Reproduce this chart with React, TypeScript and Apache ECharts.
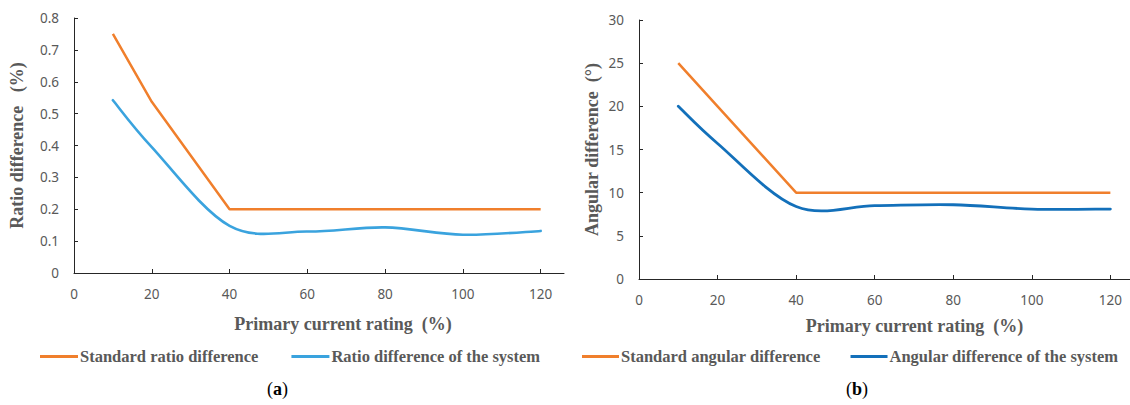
import React, { useEffect, useRef } from "react";
import * as echarts from "echarts";

const xTicks = [0, 20, 40, 60, 80, 100, 120];
const ratioStd: [number, number][] = [[10, 0.75], [20, 0.537], [40, 0.2], [60, 0.2], [80, 0.2], [100, 0.2], [120, 0.2]];
const ratioSys: [number, number][] = [[10, 0.542], [20, 0.395], [40, 0.148], [60, 0.13], [80, 0.143], [100, 0.12], [120, 0.132]];
const angStd: [number, number][] = [[10, 25], [20, 20], [40, 10], [60, 10], [80, 10], [100, 10], [120, 10]];
const angSys: [number, number][] = [[10, 20], [20, 15.7], [40, 8.4], [60, 8.5], [80, 8.6], [100, 8.1], [120, 8.1]];

const ORANGE = "#F07F2C";
const BLUE_L = "#3AA3DE";
const BLUE_D = "#1370BA";
const GRAY = "#595959";
const AXIS = "#262626";

function smoothSeries(name: string, data: [number, number][], color: string, gi: number, width: number) {
  return {
    type: "custom" as const,
    name,
    data,
    xAxisIndex: gi,
    yAxisIndex: gi,
    encode: { x: 0, y: 1 },
    itemStyle: { color },
    silent: true,
    renderItem: (params: any, api: any) => {
      if (params.dataIndex !== 0) return null;
      const pts = data.map((d) => api.coord(d) as number[]);
      let path = `M${pts[0][0]},${pts[0][1]}`;
      for (let i = 0; i < pts.length - 1; i++) {
        const p0 = pts[i - 1] ?? pts[i];
        const p1 = pts[i];
        const p2 = pts[i + 1];
        const p3 = pts[i + 2] ?? pts[i + 1];
        const c1x = p1[0] + (p2[0] - p0[0]) / 6;
        const c1y = p1[1] + (p2[1] - p0[1]) / 6;
        const c2x = p2[0] - (p3[0] - p1[0]) / 6;
        const c2y = p2[1] - (p3[1] - p1[1]) / 6;
        path += ` C${c1x},${c1y} ${c2x},${c2y} ${p2[0]},${p2[1]}`;
      }
      return {
        type: "path",
        shape: { pathData: path },
        style: { stroke: color, lineWidth: width, fill: "none", lineJoin: "round", lineCap: "round" },
      };
    },
  };
}

export default function App() {
  const ref = useRef<HTMLDivElement>(null);
  useEffect(() => {
    if (!ref.current) return;
    const chart = echarts.init(ref.current, undefined, { renderer: "svg" });
    const axisLabel = { color: GRAY, fontFamily: "Noto Sans", fontSize: 13.5 };
    const nameStyle = { color: GRAY, fontFamily: "Liberation Serif", fontWeight: "bold" as const, fontSize: 18 };
    const xAxisBase = (gi: number, max: number, gap: number, pad: number[]) => ({
      type: "value" as const,
      gridIndex: gi,
      min: 0,
      max,
      name: "Primary current rating  (%)",
      nameLocation: "middle" as const,
      nameGap: gap,
      nameMoveOverlap: false,
      nameTextStyle: { ...nameStyle, padding: pad },
      splitLine: { show: false },
      axisLine: { show: true, lineStyle: { color: AXIS, width: 1 } },
      axisTick: { show: true, inside: true, length: 4, lineStyle: { color: AXIS }, customValues: xTicks },
      axisLabel: { ...axisLabel, margin: 14, customValues: xTicks },
    });
    const yAxisBase = (gi: number, max: number, interval: number, name: string, gap: number) => ({
      type: "value" as const,
      gridIndex: gi,
      min: 0,
      max,
      interval,
      name,
      nameLocation: "middle" as const,
      nameRotate: 90,
      nameGap: gap,
      nameMoveOverlap: false,
      nameTextStyle: nameStyle,
      splitLine: { show: false },
      axisLine: { show: true, lineStyle: { color: AXIS, width: 1 } },
      axisTick: { show: true, inside: true, length: 4, lineStyle: { color: AXIS } },
      axisLabel: { ...axisLabel, margin: 15 },
    });
    const legendText = {
      color: GRAY,
      fontFamily: "Liberation Serif",
      fontWeight: "bold" as const,
      fontSize: 16.5,
      padding: [0, 0, 0, -3],
    };
    const line = (name: string, data: [number, number][], color: string, gi: number, width: number) => ({
      type: "line" as const,
      name,
      data,
      xAxisIndex: gi,
      yAxisIndex: gi,
      showSymbol: false,
      symbol: "none",
      lineStyle: { color, width },
      itemStyle: { color },
    });
    chart.setOption({
      animation: false,
      backgroundColor: "#ffffff",
      grid: [
        { left: 74, top: 18, width: 490, height: 255 },
        { left: 639, top: 20, width: 491, height: 259 },
      ],
      xAxis: [xAxisBase(0, 126, 42, [0, 0, 0, 48]), xAxisBase(1, 125, 38, [0, 0, 0, 60])],
      yAxis: [
        yAxisBase(0, 0.8, 0.1, "Ratio difference   (%)", 48),
        yAxisBase(1, 30, 5, "Angular difference  (°)", 38),
      ],
      legend: [
        {
          left: 40,
          top: 348,
          padding: 0,
          icon: "rect",
          itemWidth: 38,
          itemHeight: 3,
          itemGap: 33,
          textStyle: legendText,
          data: ["Standard ratio difference", "Ratio difference of the system"],
        },
        {
          left: 582,
          top: 348,
          padding: 0,
          icon: "rect",
          itemWidth: 37,
          itemHeight: 3,
          itemGap: 30,
          textStyle: legendText,
          data: ["Standard angular difference", "Angular difference of the system"],
        },
      ],
      graphic: [
        {
          type: "text",
          left: 267,
          top: 380,
          style: {
            text: "({a|a})",
            fill: "#000",
            font: "18px 'Liberation Serif'",
            rich: { a: { fontWeight: "bold", fontSize: 18, fontFamily: "Liberation Serif", fill: "#000" } },
          },
        },
        {
          type: "text",
          left: 846,
          top: 380,
          style: {
            text: "({b|b})",
            fill: "#000",
            font: "18px 'Liberation Serif'",
            rich: { b: { fontWeight: "bold", fontSize: 18, fontFamily: "Liberation Serif", fill: "#000" } },
          },
        },
      ],
      series: [
        line("Standard ratio difference", ratioStd, ORANGE, 0, 2.5),
        smoothSeries("Ratio difference of the system", ratioSys, BLUE_L, 0, 2.6),
        line("Standard angular difference", angStd, ORANGE, 1, 2.5),
        smoothSeries("Angular difference of the system", angSys, BLUE_D, 1, 2.8),
      ],
    });
    return () => chart.dispose();
  }, []);
  return (
    <div
      ref={ref}
      style={{ position: "absolute", left: 0, top: 0, width: 1130, height: 405, background: "#fff" }}
    />
  );
}
